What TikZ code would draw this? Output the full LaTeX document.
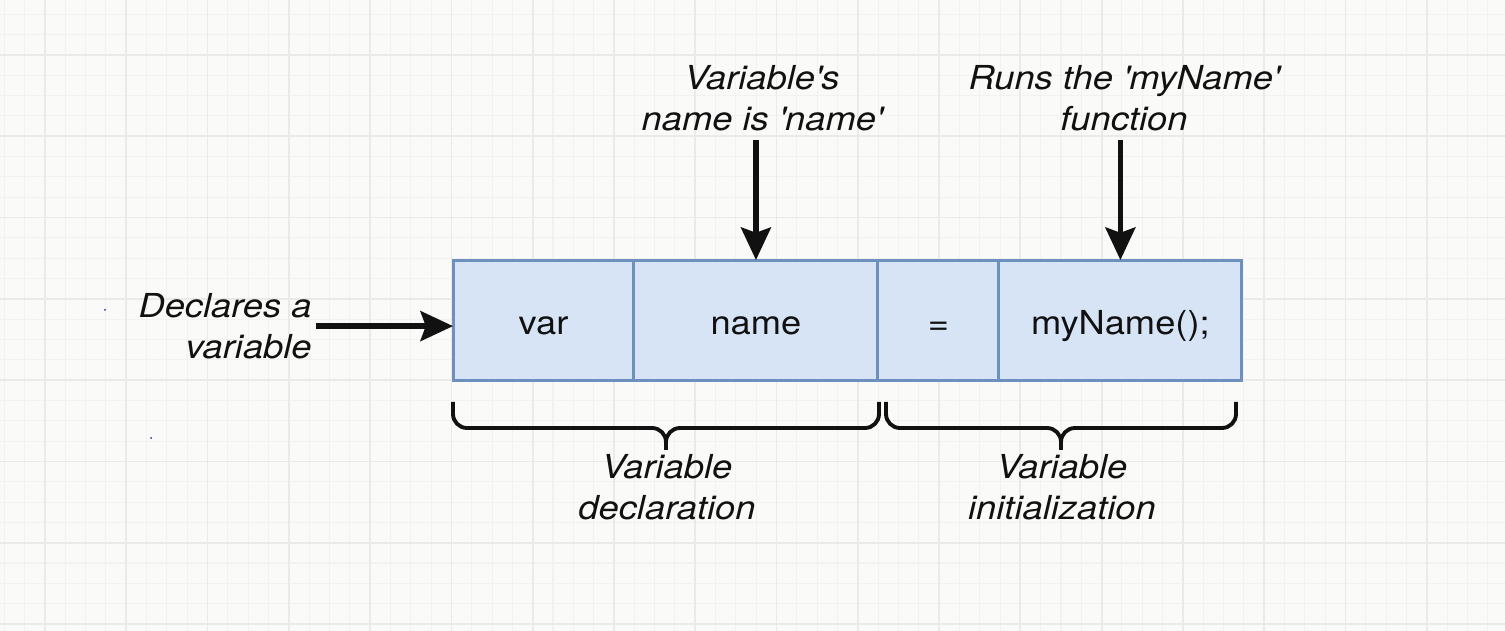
\documentclass[tikz,border=0pt]{standalone}
\usepackage{fontspec}
\setmainfont{TeX Gyre Heros}[FakeStretch=1.1]
\usetikzlibrary{arrows.meta}
\definecolor{figline}{RGB}{17,17,17}
\definecolor{figpanel}{RGB}{250,250,249}
\definecolor{gridmin}{RGB}{242,242,241}
\definecolor{gridmaj}{RGB}{234,234,233}
\definecolor{cellfill}{RGB}{215,228,246}
\definecolor{cellline}{RGB}{110,144,190}
\definecolor{speck}{RGB}{40,40,200}
\newcommand{\figfont}{\fontsize{18.8}{23.3}\selectfont}
\tikzset{
  gmin/.style ={draw=gridmin, line width=0.6pt},
  gmaj/.style ={draw=gridmaj, line width=1pt},
  cell/.style ={draw=cellline, fill=cellfill, line width=1.7pt, minimum height=2.42cm,
                inner sep=0pt, outer sep=0pt, text height=0.66cm, text depth=0.08cm,
                font=\figfont, text=figline},
  lab/.style  ={font=\figfont\itshape, align=center, inner sep=0pt, text=figline},
  ptr/.style  ={draw=figline, line width=3pt, -{Stealth[length=18.5pt,width=17pt,inset=3pt]}},
  brc/.style  ={draw=figline, line width=2.2pt, rounded corners=0.28cm},
}

\begin{document}
\begin{tikzpicture}[x=0.02cm, y=-0.02cm]
  \useasboundingbox (0,0) rectangle (1505,631);
  \fill[figpanel] (0,0) rectangle (1505,631);
  % grid
  \foreach \i in {0,...,74} \draw[gmin] ({4.36+\i*20.32},0) -- ++(0,631);
  \foreach \i in {0,...,31} \draw[gmin] (0,{14.36+\i*20.32}) -- ++(1505,0);
  \foreach \i in {2,6,...,74} \draw[gmaj] ({4.36+\i*20.32},0) -- ++(0,631);
  \foreach \i in {2,6,...,30} \draw[gmaj] (0,{14.36+\i*20.32}) -- ++(1505,0);
  \fill[speck] (105,310) circle (1);
  \fill[speck] (151,438) circle (1);
  % statement cells
  \node[cell, minimum width=3.62cm] (var) at (543.5,320.5) {var};
  \node[cell, minimum width=4.88cm, anchor=west] (name) at (var.east) {name};
  \node[cell, minimum width=2.42cm, anchor=west] (eq) at (name.east) {=};
  \node[cell, minimum width=4.86cm, anchor=west] (call) at (eq.east) {myName();};
  % labels
  \node[lab, align=right, anchor=north east] (decl) at (312,293) {Declares a\\variable};
  \node[lab, anchor=south] (vname) at (762,131) {Variable\textquotesingle s\\name is \textquotesingle name\textquotesingle};
  \node[lab, anchor=south] (runs) at (1124,131) {Runs the \textquotesingle myName\textquotesingle\\function};
  \node[lab, anchor=north] (decn) at (667,454) {Variable\\declaration};
  \node[lab, anchor=north] (init) at (1062,454) {Variable\\initialization};
  % pointers
  \draw[ptr, shorten <=2pt] (decl.east) -- (decl.east -| var.west);
  \draw[ptr, shorten <=5pt] (name.north |- vname.south) -- (name.north);
  \draw[ptr, shorten <=5pt] (call.north |- runs.south) -- (call.north);
  % braces
  \draw[brc] (453,402) -- (453,428) -- (666,428) -- (666,450);
  \draw[brc] (666,450) -- (666,428) -- (879,428) -- (879,402);
  \draw[brc] (886,402) -- (886,428) -- (1061,428) -- (1061,450);
  \draw[brc] (1061,450) -- (1061,428) -- (1236,428) -- (1236,402);
\end{tikzpicture}
\end{document}
